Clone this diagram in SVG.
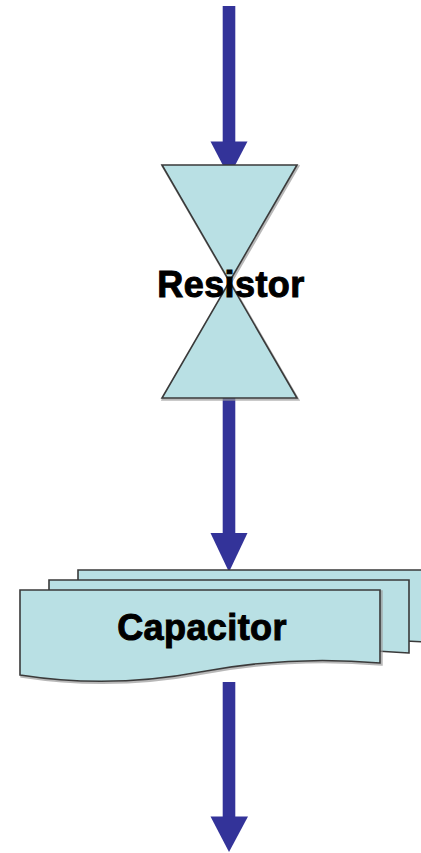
<svg xmlns="http://www.w3.org/2000/svg" width="421" height="853" viewBox="0 0 421 853">
<style>
.shape{fill:#B9E0E4;stroke:#3a3a3a;stroke-width:1.6;stroke-linejoin:miter}
.shadow{fill:none;stroke:#9a9a9a;stroke-width:2.5;opacity:0.7}
.conn{stroke:#333399;stroke-width:12.6;fill:none}
.head{fill:#333399}
.label{font-family:"Liberation Sans",Arial,sans-serif;font-weight:bold;font-size:36px;fill:#000;stroke:#000;stroke-width:1;letter-spacing:0.4px;text-anchor:middle}
</style>
<rect width="421" height="853" fill="#ffffff"/>
<g id="connectors">
  <line class="conn" x1="229" y1="6" x2="229" y2="143"/>
  <polygon class="head" points="210.5,141.5 247.5,141.5 229,177"/>
  <line class="conn" x1="229" y1="398" x2="229" y2="535"/>
  <polygon class="head" points="210.5,533 247.5,533 229,572"/>
  <line class="conn" x1="229" y1="682" x2="229" y2="818"/>
  <polygon class="head" points="210.5,816.5 248,816.5 229,852"/>
</g>
<g id="resistor">
  <path class="shadow" d="M163,166.5 L298,166.5 L163,399.5 L298,399.5 Z"/>
  <path class="shape" d="M162,165 L297,165 L162,398 L297,398 Z"/>
  <text class="label" x="231" y="297">Resistor</text>
</g>
<g id="capacitor">
  <path class="shape" d="M78,570 L438,570 L438,643 Q348,635 258,652 T78,655 Z"/>
  <path class="shape" d="M49,580 L409,580 L409,653 Q319,645 229,662 T49,665 Z"/>
  <path class="shadow" d="M21.5,591.5 L381.5,591.5 L381.5,664.5 Q291.5,656.5 201.5,673.5 T21.5,676.5 Z"/>
  <path class="shape" d="M20,590 L380,590 L380,663 Q290,655 200,672 T20,675 Z"/>
  <text class="label" x="202" y="640">Capacitor</text>
</g>
</svg>
